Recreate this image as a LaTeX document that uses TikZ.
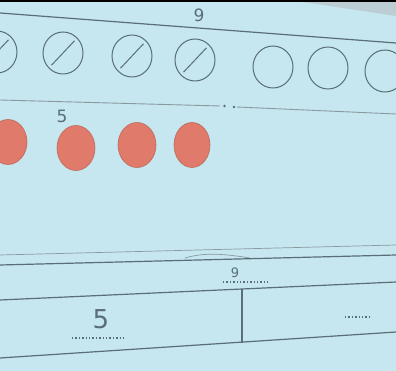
\documentclass[tikz,border=0pt]{standalone}
\usepackage{fontspec}
\setmainfont{DejaVu Sans}
\usetikzlibrary{shapes.geometric,calc}
\definecolor{board}{RGB}{198,230,240}
\definecolor{ink}{RGB}{90,110,120}
\definecolor{dot}{RGB}{224,122,106}
\begin{document}
\begin{tikzpicture}[x=1pt,y=-1pt,
  ring/.style={draw=ink,line width=1pt,ellipse,minimum width=40,minimum height=42,inner sep=0pt},
  reddot/.style={fill=dot,draw=dot!85!black,line width=0.6pt,ellipse,minimum width=38,minimum height=45,inner sep=0pt},
  rule/.style={draw=ink,line width=1.2pt},
  thinrule/.style={draw=ink!70,line width=0.7pt},
  label/.style={text=ink,font=\fontsize{17}{17}\selectfont,inner sep=0pt},
  hand/.style={text=ink,inner sep=0pt},
  dotrow/.style={draw=ink,line width=1.6pt,dash pattern=on 1.4pt off 2pt}]
\fill[board] (0,0) rectangle (396,371);
\useasboundingbox (0,0) rectangle (396,371);
% top shading and border
\fill[gray!60,opacity=0.45] (290,0) -- (396,0) -- (396,16) -- cycle;
\fill[black] (0,0) rectangle (396,2.5);
% top line and 9
\draw[rule] (0,13) -- (396,43);
\node[label] (nine) at (199,15) {9};
% circles
\node[ring] (c1) at (-3,52) {};
\node[ring] (c2) at (63,53) {};
\node[ring] (c3) at (132,56) {};
\node[ring] (c4) at (195,60) {};
\node[ring] (c5) at (273,67) {};
\node[ring] (c6) at (328,68) {};
\node[ring] (c7) at (385,71) {};
\foreach \c in {c1,c2,c3,c4}{
  \draw[ink,line width=1pt] ($(\c.south west)+(3,-3)$) -- ($(\c.north east)+(-3,3)$);
}
% second line
\coordinate (la) at (0,100);
\coordinate (lb) at (220,106);
\node[fill=ink,circle,inner sep=1pt] (d1) at (224.5,106) {};
\node[fill=ink,circle,inner sep=1pt] (d2) at (234,107) {};
\coordinate (lc) at (237,107);
\coordinate (ld) at (396,114);
\draw[thinrule,line width=0.9pt] (la) -- (lb);
\draw[thinrule,line width=0.9pt] (lc) -- (ld);
\node[label] (five) at (62,116) {5};
% red dots
\node[reddot] (r1) at (8,142) {};
\node[reddot] (r2) at (76,148) {};
\node[reddot] (r3) at (137,145) {};
\node[reddot,minimum width=36] (r4) at (192,145) {};
% bottom bar
\draw[thinrule] (0,255) -- (396,245);
\draw[thinrule] (185,258) .. controls (205,252) and (225,254) .. (250,258);
\draw[rule] (0,265) -- (396,255);
\draw[rule] (0,300) -- (396,282);
\coordinate (vt) at (242,289);
\coordinate (vb) at (242,343);
\draw[rule] (vt) -- (vb);
\draw[rule] (0,358) -- (396,332);
% handwritten numbers and dotted blanks
\node[hand,font=\fontsize{13}{13}\selectfont] (h9) at (235,273) {9};
\draw[dotrow] (223,282) -- (268,282);
\node[hand,font=\fontsize{26}{26}\selectfont] (h5) at (101,319) {5};
\draw[dotrow] (72,338) -- (125,338);
\draw[dotrow] (345,317) -- (370,317);
\end{tikzpicture}
\end{document}
